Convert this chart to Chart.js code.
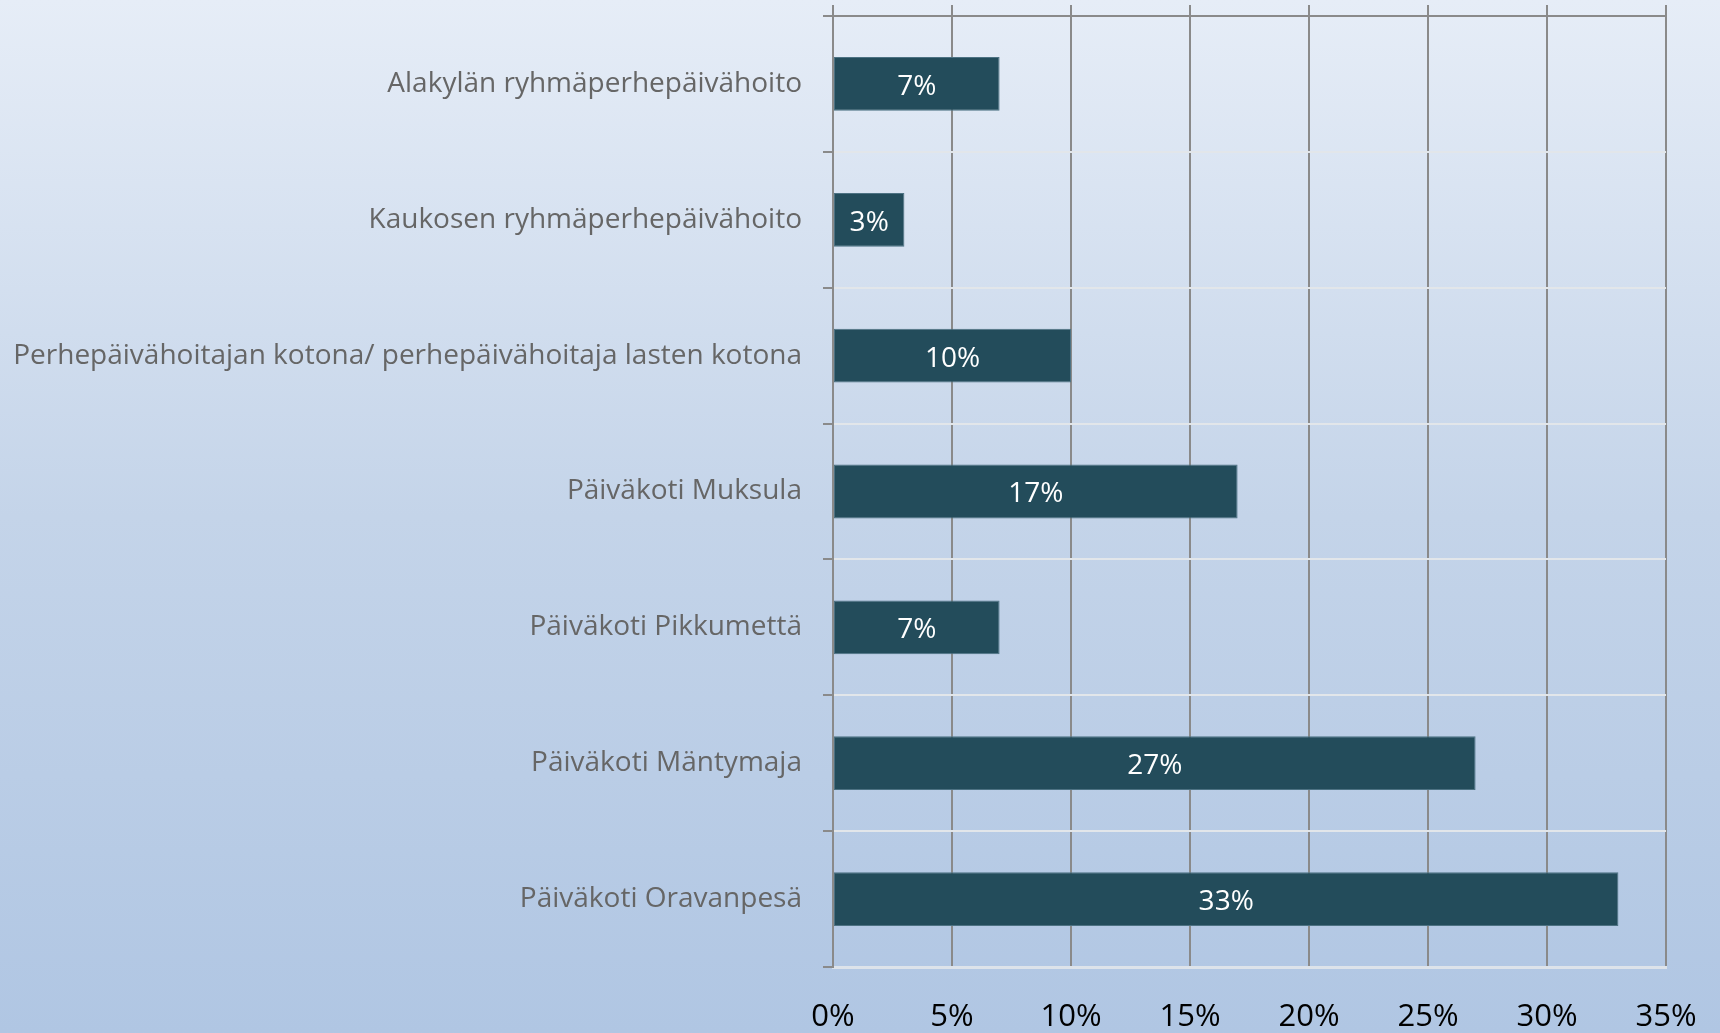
<!DOCTYPE html>
<html>
<head>
<meta charset="utf-8">
<script src="https://cdn.jsdelivr.net/npm/chart.js@4/dist/chart.umd.min.js"></script>
<style>
  html, body { margin: 0; padding: 0; }
  body {
    width: 1720px; height: 1033px; overflow: hidden;
    background: linear-gradient(to bottom, #e6edf7 0%, #c4d4e9 50%, #b0c6e3 100%);
  }
  #wrap { position: absolute; left: 0; top: 0; width: 1720px; height: 1033px; }
</style>
</head>
<body>
<div id="wrap"><canvas id="c"></canvas></div>
<script>
const categories = [
  "Alakylän ryhmäperhepäivähoito",
  "Kaukosen ryhmäperhepäivähoito",
  "Perhepäivähoitajan kotona/ perhepäivähoitaja lasten kotona",
  "Päiväkoti Muksula",
  "Päiväkoti Pikkumettä",
  "Päiväkoti Mäntymaja",
  "Päiväkoti Oravanpesä"
];
const values = [7, 3, 10, 17, 7, 27, 33];
const xTicks = [0, 5, 10, 15, 20, 25, 30, 35];

const FONT = "'Open Sans', 'DejaVu Sans', sans-serif";

const barLabels = {
  id: 'barLabels',
  afterDatasetsDraw(chart) {
    const ctx = chart.ctx;
    const meta = chart.getDatasetMeta(0);
    ctx.save();
    ctx.fillStyle = '#ffffff';
    ctx.font = "28px " + FONT;
    ctx.textAlign = 'center';
    ctx.textBaseline = 'middle';
    meta.data.forEach((bar, i) => {
      const p = bar.getProps(['x', 'y', 'base'], true);
      ctx.fillText(values[i] + '%', (p.x + p.base) / 2, p.y + 3);
    });
    ctx.restore();
  }
};

new Chart(document.getElementById('c'), {
  type: 'bar',
  data: {
    labels: categories,
    datasets: [{
      data: values,
      backgroundColor: '#234c5b',
      borderColor: '#4d7283',
      borderWidth: 1,
      borderSkipped: false,
      categoryPercentage: 1.0,
      barPercentage: 0.396
    }]
  },
  options: {
    indexAxis: 'y',
    responsive: true,
    maintainAspectRatio: false,
    animation: false,
    layout: { padding: { left: 0, right: 54, top: 0, bottom: 0 } },
    plugins: { legend: { display: false }, tooltip: { enabled: false } },
    scales: {
      x: {
        position: 'bottom',
        min: 0, max: 35,
        afterBuildTicks(scale) { scale.ticks = xTicks.map(v => ({ value: v })); },
        afterFit(scale) { scale.height = 66; scale.paddingRight = 0; scale.paddingLeft = 0; },
        grid: { color: '#8a8a8a', lineWidth: 2, drawTicks: false },
        border: { color: '#dde3ea', width: 3 },
        ticks: {
          color: '#000000',
          font: { family: FONT, size: 31 },
          padding: 32,
          callback: v => v + '%'
        }
      },
      x2: {
        position: 'top',
        axis: 'x',
        min: 0, max: 35,
        afterBuildTicks(scale) { scale.ticks = xTicks.map(v => ({ value: v })); },
        afterFit(scale) { scale.height = 16; scale.paddingRight = 0; scale.paddingLeft = 0; },
        grid: { drawOnChartArea: false, color: '#8a8a8a', lineWidth: 2, tickLength: 11 },
        border: { color: '#8a8a8a', width: 2 },
        ticks: { display: false }
      },
      y: {
        afterFit(scale) { scale.width = 833; scale.paddingTop = 0; scale.paddingBottom = 0; },
        grid: {
          offset: true,
          color: (c) => (c.index === 0 ? '#8a8a8a' : '#e2e6ea'),
          tickColor: '#8a8a8a',
          lineWidth: 2,
          tickLength: 10
        },
        border: { color: '#8a8a8a', width: 2 },
        ticks: {
          color: '#666666',
          font: { family: FONT, size: 28, lineHeight: 1.05 },
          padding: 21
        }
      }
    }
  },
  plugins: [barLabels]
});
</script>
</body>
</html>
